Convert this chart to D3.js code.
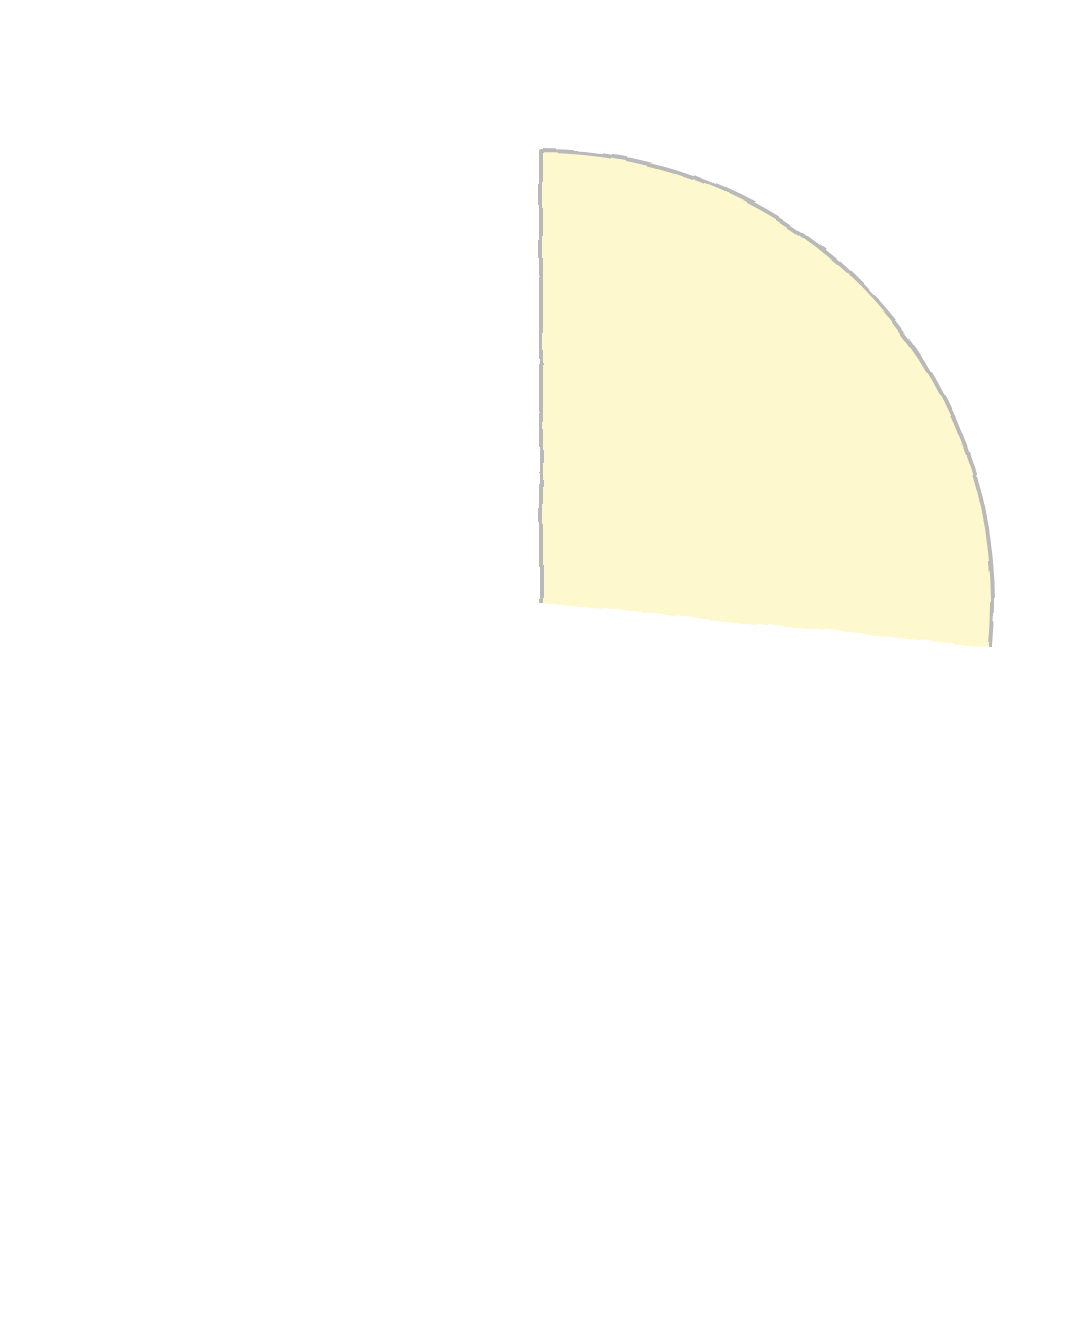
<!DOCTYPE html>
<html>
<head>
<meta charset="utf-8">
<script src="https://cdn.jsdelivr.net/npm/d3@7"></script>
<style>
  html, body { margin: 0; padding: 0; background: #fff; }
</style>
</head>
<body>
<div class="canvas"></div>
<script>
// slice data (only the first slice is visible)
const labels = ['A', 'B']
const values = [26.55, 73.45]
const fills = ['#fdf8cd', 'none']

const dims = { width: 1080, height: 1344, radius: 452 }
const center = { x: 541, y: 603 }

const svg = d3.select('.canvas').append('svg')
  .attr('width', dims.width)
  .attr('height', dims.height)

// rough, hand drawn edge
const defs = svg.append('defs')
const rough = defs.append('filter')
  .attr('id', 'rough')
  .attr('x', '-5%').attr('y', '-5%')
  .attr('width', '110%').attr('height', '110%')
rough.append('feTurbulence')
  .attr('type', 'fractalNoise')
  .attr('baseFrequency', 0.018)
  .attr('numOctaves', 3)
  .attr('seed', 7)
  .attr('result', 'noise')
rough.append('feDisplacementMap')
  .attr('in', 'SourceGraphic')
  .attr('in2', 'noise')
  .attr('scale', 6)
  .attr('xChannelSelector', 'R')
  .attr('yChannelSelector', 'G')

const graph = svg.append('g')
  .attr('transform', `translate(${center.x}, ${center.y})`)

const data = labels.map((name, i) => ({ name, value: values[i], fill: fills[i] }))

const pie = d3.pie()
  .sort(null)
  .value(d => d.value)

const arcPath = d3.arc()
  .outerRadius(dims.radius)
  .innerRadius(0)

const slices = pie(data)

graph.selectAll('path.arc')
  .data(slices)
  .enter()
  .append('path')
  .attr('class', 'arc')
  .attr('fill', d => d.data.fill)
  .attr('d', arcPath)
  .attr('filter', 'url(#rough)')

// outline: start radius + outer arc only (no closing edge)
const s = slices[0]
const outline = d3.path()
outline.moveTo(0, 0)
outline.lineTo(0, -dims.radius)
outline.arc(0, 0, dims.radius, s.startAngle - Math.PI / 2, s.endAngle - Math.PI / 2)

graph.append('path')
  .attr('d', outline.toString())
  .attr('fill', 'none')
  .attr('stroke', '#b9b9b9')
  .attr('stroke-width', 4)
  .attr('stroke-linejoin', 'round')
  .attr('filter', 'url(#rough)')
</script>
</body>
</html>
